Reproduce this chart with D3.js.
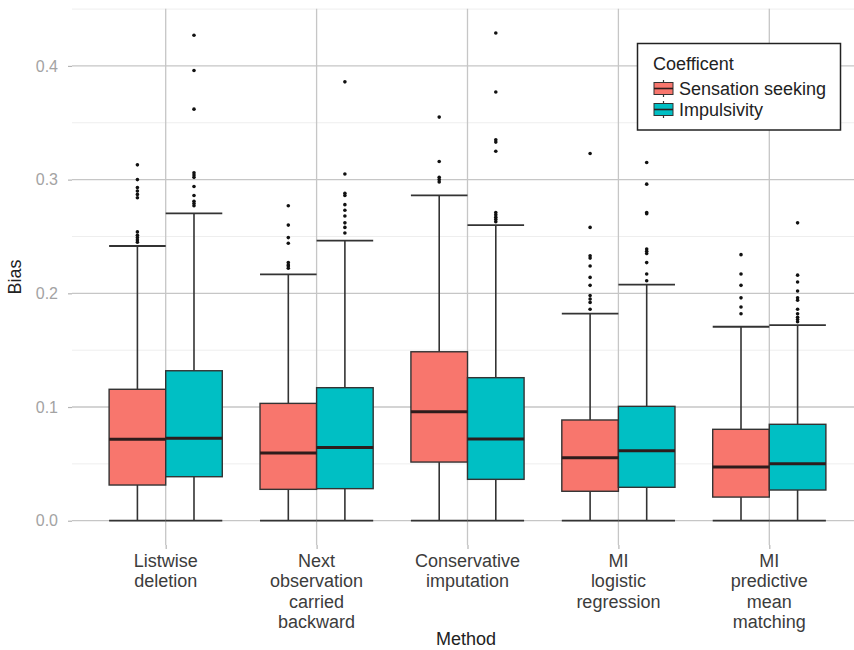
<!DOCTYPE html>
<html>
<head>
<meta charset="utf-8">
<script src="https://cdn.jsdelivr.net/npm/d3@7"></script>
<style>
  html, body { margin: 0; padding: 0; background: #fff; }
  svg { display: block; font-family: "Liberation Sans", Arial, Helvetica, sans-serif; }
</style>
</head>
<body>
<svg id="chart" width="854" height="650"></svg>
<script>
// ---------- data ----------
const methods = [
  "Listwise deletion",
  "Next observation carried backward",
  "Conservative imputation",
  "MI logistic regression",
  "MI predictive mean matching"
];
const methodLabelLines = [
  ["Listwise", "deletion"],
  ["Next", "observation", "carried", "backward"],
  ["Conservative", "imputation"],
  ["MI", "logistic", "regression"],
  ["MI", "predictive", "mean", "matching"]
];
const coefficients = ["Sensation seeking", "Impulsivity"];
const coefColors = ["#F8766D", "#00BFC4"];
const yTicks = [0.0, 0.1, 0.2, 0.3, 0.4];
const yMinorTicks = [0.05, 0.15, 0.25, 0.35, 0.45];

// Sensation seeking box statistics
const ssLower = [0, 0, 0, 0, 0];
const ssQ1 = [0.0314, 0.0276, 0.0516, 0.0259, 0.0208];
const ssMedian = [0.0716, 0.0595, 0.0959, 0.0554, 0.0472];
const ssQ3 = [0.1156, 0.1032, 0.1486, 0.0886, 0.0804];
const ssUpper = [0.2416, 0.2167, 0.2862, 0.1821, 0.1706];
const ssOutliers = [
  [0.313, 0.300, 0.293, 0.290, 0.287, 0.284, 0.254, 0.251, 0.249, 0.247, 0.245],
  [0.277, 0.260, 0.249, 0.244, 0.227, 0.225, 0.224, 0.222],
  [0.355, 0.316, 0.302, 0.300, 0.298],
  [0.323, 0.258, 0.233, 0.231, 0.224, 0.214, 0.207, 0.198, 0.195, 0.192, 0.186],
  [0.234, 0.217, 0.207, 0.196, 0.188, 0.182]
];

// Impulsivity box statistics
const imLower = [0, 0, 0, 0, 0];
const imQ1 = [0.0387, 0.0282, 0.0364, 0.0294, 0.0270];
const imMedian = [0.0725, 0.0645, 0.0719, 0.0616, 0.0501];
const imQ3 = [0.1319, 0.1170, 0.1258, 0.1006, 0.0848];
const imUpper = [0.2703, 0.2463, 0.2600, 0.2076, 0.1721];
const imOutliers = [
  [0.427, 0.396, 0.362, 0.306, 0.304, 0.302, 0.294, 0.286, 0.281, 0.279, 0.277],
  [0.386, 0.305, 0.288, 0.286, 0.278, 0.273, 0.268, 0.262, 0.258, 0.253],
  [0.429, 0.377, 0.335, 0.333, 0.325, 0.271, 0.269, 0.267, 0.265, 0.263],
  [0.315, 0.296, 0.271, 0.270, 0.239, 0.237, 0.235, 0.227, 0.217, 0.211],
  [0.262, 0.216, 0.210, 0.202, 0.196, 0.194, 0.186, 0.182, 0.179, 0.177, 0.175]
];

// ---------- build table ----------
const series = [
  {name: coefficients[0], color: coefColors[0], lower: ssLower, q1: ssQ1, med: ssMedian, q3: ssQ3, upper: ssUpper, out: ssOutliers},
  {name: coefficients[1], color: coefColors[1], lower: imLower, q1: imQ1, med: imMedian, q3: imQ3, upper: imUpper, out: imOutliers}
];
const boxes = [];
methods.forEach((m, i) => {
  series.forEach((s, j) => {
    boxes.push({method: m, coef: s.name, color: s.color,
      lower: s.lower[i], q1: s.q1[i], med: s.med[i], q3: s.q3[i], upper: s.upper[i], out: s.out[i]});
  });
});

// ---------- layout ----------
const panel = {left: 72, right: 860, top: 8.8, bottom: 545.1};
const svg = d3.select("#chart");

const x = d3.scalePoint().domain(methods).range([165.7, 769.3]);
const step = x.step();
const inner = d3.scaleBand().domain(coefficients).range([-0.375 * step, 0.375 * step]).padding(0);
const y = d3.scaleLinear().domain([-0.02144, 0.45024]).range([panel.bottom, panel.top]);

// minor grid
svg.append("g").selectAll("line").data(yMinorTicks).join("line")
  .attr("x1", panel.left).attr("x2", panel.right)
  .attr("y1", d => y(d)).attr("y2", d => y(d))
  .attr("stroke", "#eeeeee").attr("stroke-width", 1);

// major grid horizontal
svg.append("g").selectAll("line").data(yTicks).join("line")
  .attr("x1", panel.left).attr("x2", panel.right)
  .attr("y1", d => y(d)).attr("y2", d => y(d))
  .attr("stroke", "#c6c6c6").attr("stroke-width", 1.3);

// major grid vertical
svg.append("g").selectAll("line").data(methods).join("line")
  .attr("x1", d => x(d)).attr("x2", d => x(d))
  .attr("y1", panel.top).attr("y2", panel.bottom)
  .attr("stroke", "#c6c6c6").attr("stroke-width", 1.3);

// y axis
const yAxis = d3.axisLeft(y).tickValues(yTicks).tickFormat(d3.format(".1f")).tickSize(4).tickPadding(10);
const ya = svg.append("g").attr("transform", `translate(${panel.left},0)`).call(yAxis);
ya.select(".domain").remove();
ya.selectAll(".tick line").attr("stroke", "#b5b5b5").attr("stroke-width", 1.2);
ya.selectAll(".tick text").attr("fill", "#a3a3a3").style("font-size", "16px")
  .style("font-family", '"Liberation Sans", Arial, sans-serif');

// x axis
const xAxis = d3.axisBottom(x).tickSize(4).tickFormat("");
const xa = svg.append("g").attr("transform", `translate(0,${panel.bottom})`).call(xAxis);
xa.select(".domain").remove();
xa.selectAll(".tick line").attr("stroke", "#b5b5b5").attr("stroke-width", 1.2);
const xl = svg.append("g").selectAll("text").data(methods).join("text")
  .attr("x", d => x(d)).attr("y", 567)
  .attr("text-anchor", "middle").attr("fill", "#3c3c3c").style("font-size", "18px");
xl.each(function(d, i) {
  d3.select(this).selectAll("tspan").data(methodLabelLines[i]).join("tspan")
    .attr("x", x(d)).attr("dy", (t, k) => k === 0 ? 0 : 20.3).text(t => t);
});

// axis titles
svg.append("text").attr("x", (panel.left + 860) / 2).attr("y", 645)
  .attr("text-anchor", "middle").attr("fill", "#222").style("font-size", "18px").text("Method");
svg.append("text").attr("transform", `translate(21,${(panel.top + panel.bottom) / 2}) rotate(-90)`)
  .attr("text-anchor", "middle").attr("fill", "#222").style("font-size", "18px").text("Bias");

// boxes
const bw = inner.bandwidth();
const g = svg.append("g");
const bx = d => x(d.method) + inner(d.coef);
const bc = d => bx(d) + bw / 2;
const lineCol = "#333333";

// whiskers
g.selectAll(".wu").data(boxes).join("line")
  .attr("x1", bc).attr("x2", bc).attr("y1", d => y(d.q3)).attr("y2", d => y(d.upper))
  .attr("stroke", lineCol).attr("stroke-width", 1.6);
g.selectAll(".wl").data(boxes).join("line")
  .attr("x1", bc).attr("x2", bc).attr("y1", d => y(d.q1)).attr("y2", d => y(d.lower))
  .attr("stroke", lineCol).attr("stroke-width", 1.6);
// caps
g.selectAll(".cu").data(boxes).join("line")
  .attr("x1", bx).attr("x2", d => bx(d) + bw).attr("y1", d => y(d.upper)).attr("y2", d => y(d.upper))
  .attr("stroke", lineCol).attr("stroke-width", 1.8);
g.selectAll(".cl").data(boxes).join("line")
  .attr("x1", bx).attr("x2", d => bx(d) + bw).attr("y1", d => y(d.lower)).attr("y2", d => y(d.lower))
  .attr("stroke", lineCol).attr("stroke-width", 1.8);
// box rects
g.selectAll("rect").data(boxes).join("rect")
  .attr("x", bx).attr("width", bw)
  .attr("y", d => y(d.q3)).attr("height", d => y(d.q1) - y(d.q3))
  .attr("fill", d => d.color).attr("stroke", lineCol).attr("stroke-width", 1.4);
// medians
g.selectAll(".med").data(boxes).join("line")
  .attr("x1", bx).attr("x2", d => bx(d) + bw).attr("y1", d => y(d.med)).attr("y2", d => y(d.med))
  .attr("stroke", "#2e1c1c").attr("stroke-width", 3);
// outliers
const outs = boxes.flatMap(d => d.out.map(v => ({box: d, v})));
g.selectAll("circle").data(outs).join("circle")
  .attr("cx", d => bc(d.box)).attr("cy", d => y(d.v)).attr("r", 1.8).attr("fill", "#111");

// legend
const lg = svg.append("g");
lg.append("rect").attr("x", 637.5).attr("y", 43.5).attr("width", 203).attr("height", 86.5)
  .attr("fill", "#fff").attr("stroke", "#222").attr("stroke-width", 1.5);
lg.append("text").attr("x", 653).attr("y", 70).style("font-size", "18px").attr("fill", "#222").text("Coefficent");
const items = lg.selectAll(".item").data(series).join("g")
  .attr("transform", (d, i) => `translate(653,${88.5 + i * 21})`);
items.append("line").attr("x1", 10.5).attr("x2", 10.5).attr("y1", -8.5).attr("y2", 8.5)
  .attr("stroke", lineCol).attr("stroke-width", 1.2);
items.append("rect").attr("x", 1).attr("y", -6).attr("width", 19).attr("height", 12)
  .attr("fill", d => d.color).attr("stroke", lineCol).attr("stroke-width", 1);
items.append("line").attr("x1", 1).attr("x2", 20).attr("y1", 0).attr("y2", 0)
  .attr("stroke", "#2e1c1c").attr("stroke-width", 1.6);
items.append("text").attr("x", 26).attr("y", 6).style("font-size", "18px").attr("fill", "#222").text(d => d.name);
</script>
</body>
</html>
